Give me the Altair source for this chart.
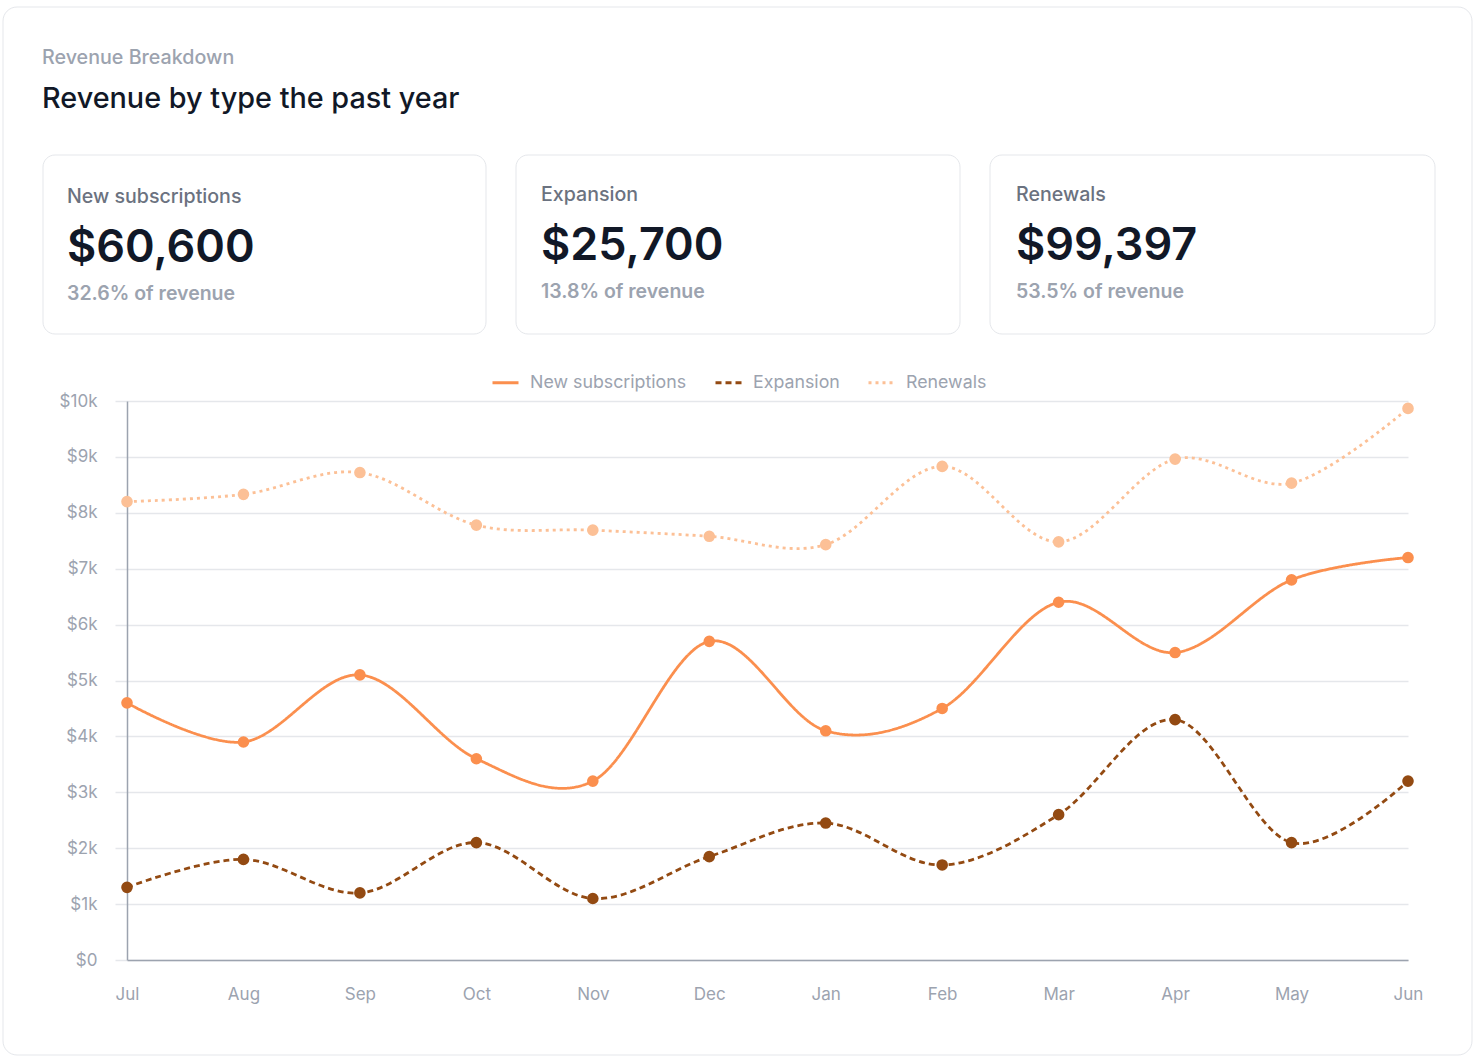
import altair as alt
import pandas as pd

months = ["Jul", "Aug", "Sep", "Oct", "Nov", "Dec", "Jan", "Feb", "Mar", "Apr", "May", "Jun"]
series_names = ["New subscriptions", "Expansion", "Renewals"]
new_subs = [4600, 3900, 5100, 3600, 3200, 5700, 4100, 4500, 6400, 5500, 6800, 7200]
expansion = [1300, 1800, 1200, 2100, 1100, 1850, 2450, 1700, 2600, 4300, 2100, 3200]
renewals = [8200, 8330, 8720, 7780, 7690, 7580, 7430, 8830, 7480, 8960, 8530, 9867]
y_ticks = [0, 1000, 2000, 3000, 4000, 5000, 6000, 7000, 8000, 9000, 10000]
colors = ["#fb8f4e", "#934a12", "#fcc096"]
dashes = [[1, 0], [6, 4], [3, 4]]

header_kicker = "Revenue Breakdown"
header_title = "Revenue by type the past year"

series_values = [new_subs, expansion, renewals]
rows = []
for name, vals in zip(series_names, series_values):
    for m, v in zip(months, vals):
        rows.append({"month": m, "series": name, "value": v})
df = pd.DataFrame(rows)

totals = [sum(v) for v in series_values]
grand = sum(totals)

FONT = "Inter"
W, H = 1281, 559
PAD_L, PAD_T = 127, 401

dummy = alt.Data(values=[{"a": 1}])


def rect(x0, y0, x1, y1, radius=12, fill="white"):
    return alt.Chart(dummy).mark_rect(
        fill=fill, stroke="#e5e7eb", strokeWidth=1, cornerRadius=radius
    ).encode(
        x=alt.value(x0 - PAD_L), x2=alt.value(x1 - PAD_L),
        y=alt.value(y0 - PAD_T), y2=alt.value(y1 - PAD_T),
    )


def text(s, x, y, size, color, weight=400):
    return alt.Chart(dummy).mark_text(
        align="left", baseline="alphabetic", font=FONT, fontSize=size,
        fontWeight=weight, color=color,
    ).encode(x=alt.value(x - PAD_L), y=alt.value(y - PAD_T), text=alt.value(s))


layers = [rect(3, 7, 1472, 1055, 14, fill="transparent")]
layers.append(text(header_kicker, 42, 64, 19.7, "#9ca3af", 500))
layers.append(text(header_title, 42, 108, 28.8, "#111827", 500))

card_lefts = [43, 516, 990]
card_rights = [486, 960, 1435]
card_shift = [0, -2, -2]
card_inset = [24, 25, 26]
for i, name in enumerate(series_names):
    cl, cr, sh, ins = card_lefts[i], card_rights[i], card_shift[i], card_inset[i]
    layers.append(rect(cl, 155, cr, 334))
    layers.append(text(name, cl + ins, 203 + sh, 19.6, "#6b7280", 500))
    layers.append(text(f"${totals[i]:,}", cl + ins, 262 + sh, 45, "#111827", 600))
    layers.append(text(f"{totals[i] / grand * 100:.1f}% of revenue", cl + ins, 300 + sh, 19.5, "#9ca3af", 600))

x_enc = alt.X(
    "month:O", sort=months, scale=alt.Scale(padding=0),
    axis=alt.Axis(
        title=None, labelAngle=0, ticks=False, grid=False, domain=True,
        domainColor="#9ca3af", domainWidth=1.5, labelPadding=26,
        labelFontSize=17, labelColor="#9ca3af", labelFont=FONT,
    ),
)
y_enc = alt.Y(
    "value:Q", scale=alt.Scale(domain=[0, 10000], nice=False),
    axis=alt.Axis(
        title=None, values=y_ticks, grid=True, gridColor="#e5e7eb", gridWidth=1.5,
        ticks=True, tickSize=12, tickColor="#e5e7eb", tickWidth=1.5,
        domain=True, domainColor="#9ca3af", domainWidth=1.5,
        labelPadding=18, labelFontSize=17, labelColor="#9ca3af", labelFont=FONT,
        labelExpr="datum.value == 0 ? '$0' : '$' + (datum.value / 1000) + 'k'",
    ),
)
legend = alt.Legend(
    title=None, orient="none", legendX=493 - PAD_L - 2, legendY=382 - PAD_T - 14,
    direction="horizontal", symbolType="stroke", symbolSize=676, symbolStrokeWidth=3,
    labelFontSize=17.8, labelColor="#9ca3af", labelFont=FONT, labelOffset=10,
    columnPadding=22,
)

lines = alt.Chart(df).mark_line(interpolate="cardinal", strokeWidth=2.8, strokeCap="butt").encode(
    x=x_enc, y=y_enc,
    color=alt.Color("series:N", scale=alt.Scale(domain=series_names, range=colors), legend=legend),
    strokeDash=alt.StrokeDash("series:N", scale=alt.Scale(domain=series_names, range=dashes), legend=legend),
)
points = alt.Chart(df).mark_circle(size=135, opacity=1).encode(
    x=x_enc, y=y_enc,
    color=alt.Color("series:N", scale=alt.Scale(domain=series_names, range=colors), legend=None),
)

layers += [lines, points]

chart = alt.layer(*layers).properties(
    width=W, height=H,
    padding={"left": PAD_L, "top": PAD_T, "right": 1477 - PAD_L - W, "bottom": 1060 - PAD_T - H},
    autosize=alt.AutoSizeParams(type="none"),
    background="white",
).configure_view(strokeWidth=0)

chart.save("out.html", embed_options={"renderer": "svg", "actions": False})
